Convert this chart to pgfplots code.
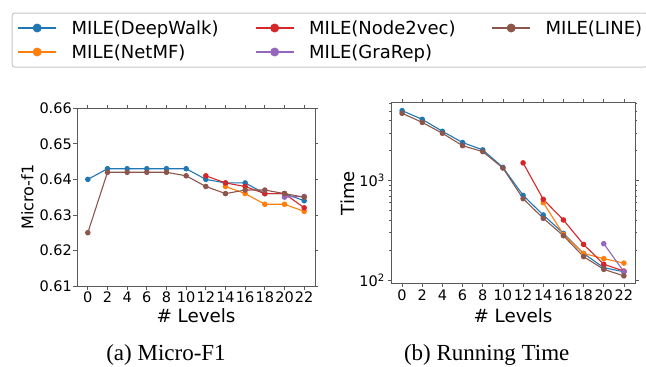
\documentclass[border=0pt]{standalone}
\usepackage{pgfplots}
\pgfplotsset{compat=1.18}
\usepackage{fontspec}
\setmainfont{DejaVu Sans}
\newfontfamily\timesfont{Liberation Serif}
\definecolor{mblue}{HTML}{1F77B4}
\definecolor{morange}{HTML}{FF7F0E}
\definecolor{mred}{HTML}{D62728}
\definecolor{mpurple}{HTML}{9467BD}
\definecolor{mbrown}{HTML}{8C564B}
\definecolor{frame}{gray}{0.35}
\definecolor{legframe}{gray}{0.78}
\newcommand{\LE}[2]{\makebox[#1][l]{\rule[-4.5pt]{0pt}{19pt}#2}}
\pgfplotsset{
  common/.style={
    scale only axis,
    anchor=south west,
    axis line style={frame, line width=0.8pt},
    tick style={frame, line width=0.8pt},
    tick align=outside,
    major tick length=3.5pt,
    minor tick length=2pt,
    xtick={0,2,...,22},
    xmin=-1.1, xmax=23.1,
    /pgf/number format/assume math mode=true,
    tick label style={font=\fontsize{14.5}{14.5}\selectfont},
    xticklabel style={inner sep=2.5pt},
    xlabel={\# Levels},
    xlabel style={font=\fontsize{18.3}{18.3}\selectfont, at={(axis description cs:0.5,0)}, anchor=base},
    every axis plot/.append style={line width=1.1pt, mark=*, mark size=2.2pt},
    clip=false,
  },
}
\begin{document}
\begin{tikzpicture}
\useasboundingbox (0pt,0pt) rectangle (646pt,-367pt);
% ---------------- (a) Micro-F1 ----------------
\begin{axis}[common,
  at={(77pt,-286pt)}, width=238pt, height=177.7pt,
  ymin=0.61, ymax=0.66,
  ytick={0.61,0.62,0.63,0.64,0.65,0.66},
  yticklabel style={inner sep=1.5pt, /pgf/number format/.cd, fixed, fixed zerofill, precision=2},
  xlabel style={yshift=-36pt},
  ylabel={Micro-f1},
  ylabel style={font=\fontsize{16}{16}\selectfont, at={(axis description cs:-0.1836,0.5)}, anchor=base},
  legend columns=3,
  legend style={at={(axis description cs:-0.2744,1.5391)}, anchor=north west,
    draw=legframe, rounded corners=2.5pt, line width=1pt, fill=white,
    inner xsep=5pt, inner ysep=7pt, row sep=8pt,
    font=\fontsize{18}{18}\selectfont,
    nodes={inner sep=0pt},
    /tikz/every odd column/.append style={column sep=14.5pt},
  },
  legend image code/.code={
    \draw[mark repeat=2, mark phase=2, line width=2pt, mark size=3.4pt, #1] plot coordinates {(0pt,0pt) (19pt,0pt) (38pt,0pt)};
  },
]
\addplot[mblue, forget plot] coordinates {(0,0.640)(2,0.643)(4,0.643)(6,0.643)(8,0.643)(10,0.643)(12,0.640)(14,0.639)(16,0.639)(18,0.636)(20,0.636)(22,0.634)};
\addplot[morange, forget plot] coordinates {(14,0.638)(16,0.636)(18,0.633)(20,0.633)(22,0.631)};
\addplot[mred, forget plot] coordinates {(12,0.641)(14,0.639)(16,0.638)(18,0.636)(20,0.636)(22,0.632)};
\addplot[mpurple, forget plot] coordinates {(20,0.635)(22,0.6352)};
\addplot[mbrown, forget plot] coordinates {(0,0.625)(2,0.642)(4,0.642)(6,0.642)(8,0.642)(10,0.641)(12,0.638)(14,0.636)(16,0.637)(18,0.637)(20,0.636)(22,0.635)};
\addlegendimage{mblue}
\addlegendentry{\LE{183pt}{MILE(DeepWalk)}}
\addlegendimage{mred}
\addlegendentry{\LE{182pt}{MILE(Node2vec)}}
\addlegendimage{mbrown}
\addlegendentry{\LE{97pt}{MILE(LINE)}}
\addlegendimage{morange}
\addlegendentry{\LE{183pt}{MILE(NetMF)}}
\addlegendimage{mpurple}
\addlegendentry{\LE{182pt}{MILE(GraRep)}}
\end{axis}
% ---------------- (b) Running Time ----------------
\begin{axis}[common,
  at={(391pt,-283.3pt)}, width=244pt, height=180.6pt,
  ymode=log, ymin=92.6, ymax=6095,
  ytick={100,1000},
  yticklabels={10\textsuperscript{2},10\textsuperscript{3}},
  minor ytick={200,300,400,500,600,700,800,900,2000,3000,4000,5000,6000},
  yticklabel style={inner sep=2.5pt},
  xlabel style={yshift=-38.7pt},
  ylabel={Time},
  ylabel style={font=\fontsize{18}{18}\selectfont, at={(axis description cs:-0.1516,0.5)}, anchor=base},
]
\addplot[mblue] coordinates {(0,5070)(2,4140)(4,3140)(6,2420)(8,2040)(10,1360)(12,711)(14,451)(16,295)(18,185)(20,133)(22,121)};
\addplot[morange] coordinates {(14,601)(16,288)(18,185)(20,164)(22,148)};
\addplot[mred] coordinates {(12,1510)(14,649)(16,402)(18,228)(20,144)(22,123)};
\addplot[mpurple] coordinates {(20,232)(22,121)};
\addplot[mbrown] coordinates {(0,4770)(2,3860)(4,3000)(6,2250)(8,1960)(10,1340)(12,659)(14,418)(16,279)(18,172)(20,128)(22,110)};
\end{axis}
\node[font=\timesfont\fontsize{23}{23}\selectfont, anchor=base] at (166pt,-360pt) {(a) Micro-F1};
\node[font=\timesfont\fontsize{23}{23}\selectfont, anchor=base] at (486.7pt,-360pt) {(b) Running Time};
\end{tikzpicture}
\end{document}
